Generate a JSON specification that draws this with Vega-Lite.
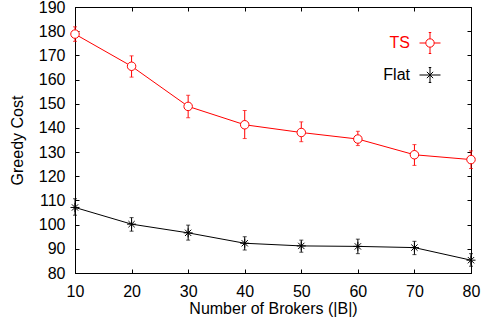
{
  "$schema": "https://vega.github.io/schema/vega-lite/v6.json",
  "autosize": "none",
  "width": 396,
  "height": 266,
  "padding": {"left": 75, "top": 7, "right": 11, "bottom": 50},
  "background": "white",
  "config": {
    "view": {"stroke": "black", "strokeWidth": 1},
    "font": "Liberation Sans",
    "axis": {
      "grid": false,
      "domainColor": "black",
      "tickColor": "black",
      "labelColor": "black",
      "titleColor": "black",
      "labelFont": "Liberation Sans",
      "titleFont": "Liberation Sans",
      "labelFontSize": 16,
      "titleFontSize": 16,
      "titleFontWeight": "normal",
      "tickSize": -4,
      "domainWidth": 1,
      "tickWidth": 1,
      "labelOverlap": false,
      "labelFlush": false
    }
  },
  "data": {
    "values": [
      {"series": "TS", "brokers": 10, "mean": 178.8, "lo": 175.8, "hi": 181.8},
      {"series": "TS", "brokers": 20, "mean": 165.5, "lo": 161.0, "hi": 169.8},
      {"series": "TS", "brokers": 30, "mean": 148.9, "lo": 144.2, "hi": 153.5},
      {"series": "TS", "brokers": 40, "mean": 141.3, "lo": 135.6, "hi": 147.2},
      {"series": "TS", "brokers": 50, "mean": 138.1, "lo": 134.3, "hi": 142.5},
      {"series": "TS", "brokers": 60, "mean": 135.4, "lo": 132.7, "hi": 138.6},
      {"series": "TS", "brokers": 70, "mean": 128.9, "lo": 124.5, "hi": 133.1},
      {"series": "TS", "brokers": 80, "mean": 126.9, "lo": 123.2, "hi": 130.5},
      {"series": "Flat", "brokers": 10, "mean": 107.1, "lo": 103.9, "hi": 110.7},
      {"series": "Flat", "brokers": 20, "mean": 100.2, "lo": 97.3, "hi": 102.9},
      {"series": "Flat", "brokers": 30, "mean": 96.6, "lo": 93.6, "hi": 99.8},
      {"series": "Flat", "brokers": 40, "mean": 92.3, "lo": 89.5, "hi": 95.0},
      {"series": "Flat", "brokers": 50, "mean": 91.2, "lo": 88.6, "hi": 93.6},
      {"series": "Flat", "brokers": 60, "mean": 91.0, "lo": 88.0, "hi": 94.0},
      {"series": "Flat", "brokers": 70, "mean": 90.5, "lo": 87.6, "hi": 93.1},
      {"series": "Flat", "brokers": 80, "mean": 85.3, "lo": 82.8, "hi": 88.0}
    ]
  },
  "layer": [
    {
      "mark": {"type": "rule", "strokeWidth": 1},
      "encoding": {
        "x": {
          "field": "brokers", "type": "quantitative",
          "scale": {"domain": [10, 80], "nice": false, "zero": false},
          "axis": {
            "values": [10, 20, 30, 40, 50, 60, 70, 80],
            "title": "Number of Brokers (|B|)",
            "labelPadding": 14,
            "titlePadding": 1,
            "labelOverlap": false,
            "labelFlush": false
          }
        },
        "y": {
          "field": "lo", "type": "quantitative",
          "scale": {"domain": [80, 190], "nice": false, "zero": false},
          "axis": {
            "values": [80, 90, 100, 110, 120, 130, 140, 150, 160, 170, 180, 190],
            "title": "Greedy Cost",
            "labelPadding": 14,
            "titlePadding": 13,
            "labelOverlap": false,
            "labelFlush": false
          }
        },
        "y2": {"field": "hi"},
        "color": {
          "field": "series", "type": "nominal",
          "scale": {"domain": ["Flat", "TS"], "range": ["#000000", "#ff0000"]},
          "legend": null
        }
      }
    },
    {
      "mark": {"type": "point", "opacity": 0, "filled": false},
      "encoding": {
        "x": {
          "field": "brokers", "type": "quantitative",
          "axis": {"orient": "top", "values": [10, 20, 30, 40, 50, 60, 70, 80], "labels": false, "title": null}
        },
        "y": {
          "field": "mean", "type": "quantitative",
          "axis": {"orient": "right", "values": [80, 90, 100, 110, 120, 130, 140, 150, 160, 170, 180, 190], "labels": false, "title": null}
        },
        "stroke": {
          "field": "series", "type": "nominal",
          "scale": {"domain": ["TS", "Flat"], "range": ["#ff0000", "#000000"]},
          "legend": {
            "title": null,
            "orient": "none",
            "legendX": 344,
            "legendY": 25,
            "padding": 0,
            "symbolSize": 441,
            "symbolStrokeWidth": 1,
            "symbolOpacity": 1,
            "symbolFillColor": "white",
            "labelColor": {"expr": "datum.value === 'TS' ? '#ff0000' : '#000000'"},
            "labelAlign": "right",
            "labelOffset": -31,
            "labelFontSize": 16,
            "labelFont": "Liberation Sans",
            "rowPadding": 8
          }
        },
        "shape": {
          "field": "series", "type": "nominal",
          "scale": {"domain": ["TS", "Flat"], "range": ["M-1,0H-0.4M0.4,0H1M0,-1V-0.4M0,0.4V1M-0.12,-1H0.12M-0.12,1H0.12M0.4,0A0.4,0.4 0 1,1 -0.4,0A0.4,0.4 0 1,1 0.4,0Z", "M-1,0H1M0,-0.71V0.71M-0.12,-0.71H0.12M-0.12,0.71H0.12M-0.3,-0.3L0.3,0.3M-0.3,0.3L0.3,-0.3"]}
        }
      }
    },
    {
      "mark": {"type": "tick", "orient": "horizontal", "size": 4, "thickness": 1},
      "encoding": {
        "x": {"field": "brokers", "type": "quantitative", "axis": null},
        "y": {"field": "lo", "type": "quantitative", "axis": null},
        "color": {"field": "series", "type": "nominal", "legend": null}
      }
    },
    {
      "mark": {"type": "tick", "orient": "horizontal", "size": 4, "thickness": 1},
      "encoding": {
        "x": {"field": "brokers", "type": "quantitative", "axis": null},
        "y": {"field": "hi", "type": "quantitative", "axis": null},
        "color": {"field": "series", "type": "nominal", "legend": null}
      }
    },
    {
      "mark": {"type": "line", "strokeWidth": 1},
      "encoding": {
        "x": {"field": "brokers", "type": "quantitative", "axis": null},
        "y": {"field": "mean", "type": "quantitative", "axis": null},
        "color": {"field": "series", "type": "nominal", "legend": null},
        "detail": {"field": "series"}
      }
    },
    {
      "transform": [{"filter": "datum.series === 'TS'"}],
      "mark": {"type": "point", "shape": "circle", "size": 72, "filled": false, "fill": "white", "fillOpacity": 1, "opacity": 1, "strokeWidth": 1},
      "encoding": {
        "x": {"field": "brokers", "type": "quantitative", "axis": null},
        "y": {"field": "mean", "type": "quantitative", "axis": null},
        "color": {"field": "series", "type": "nominal", "legend": null}
      }
    },
    {
      "transform": [{"filter": "datum.series === 'Flat'"}],
      "mark": {"type": "point", "shape": "M-1,0H1M0,-1V1M-0.7,-0.7L0.7,0.7M-0.7,0.7L0.7,-0.7", "size": 81, "filled": false, "opacity": 1, "strokeWidth": 1},
      "encoding": {
        "x": {"field": "brokers", "type": "quantitative", "axis": null},
        "y": {"field": "mean", "type": "quantitative", "axis": null},
        "color": {"field": "series", "type": "nominal", "legend": null}
      }
    }
  ],
  "resolve": {"axis": {"x": "independent", "y": "independent"}}
}
